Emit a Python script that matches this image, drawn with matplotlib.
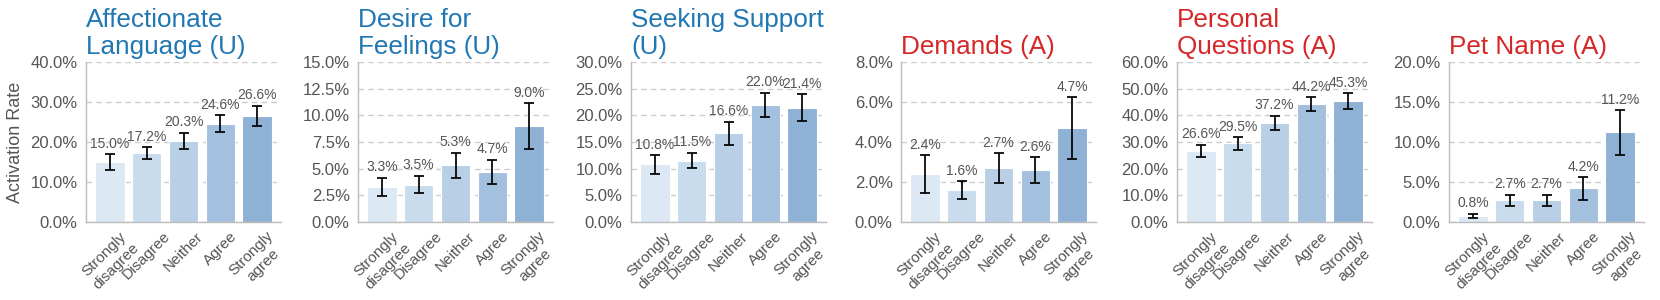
import matplotlib
matplotlib.use("Agg")
import matplotlib.pyplot as plt
import numpy as np
from matplotlib.ticker import FixedLocator, FuncFormatter

plt.rcParams['font.family'] = ['Liberation Sans', 'DejaVu Sans']

categories = ["Strongly\ndisagree", "Disagree", "Neither", "Agree", "Strongly\nagree"]

titles = ["Affectionate\nLanguage (U)", "Desire for\nFeelings (U)", "Seeking Support\n(U)",
          "Demands (A)", "Personal\nQuestions (A)", "Pet Name (A)"]
groups = ["U", "U", "U", "A", "A", "A"]

affectionate_vals = [15.0, 17.2, 20.3, 24.6, 26.6]
affectionate_err = [1.9, 1.5, 2.0, 2.05, 2.5]
desire_vals = [3.3, 3.5, 5.3, 4.7, 9.0]
desire_err = [0.83, 0.82, 1.2, 1.13, 2.15]
seeking_vals = [10.8, 11.5, 16.6, 22.0, 21.4]
seeking_err = [1.75, 1.45, 2.2, 2.25, 2.55]
demands_vals = [2.4, 1.6, 2.7, 2.6, 4.7]
demands_err = [0.93, 0.43, 0.73, 0.63, 1.55]
personal_vals = [26.6, 29.5, 37.2, 44.2, 45.3]
personal_err = [2.3, 2.35, 2.7, 2.5, 3.0]
petname_vals = [0.8, 2.7, 2.7, 4.2, 11.2]
petname_err = [0.25, 0.7, 0.7, 1.4, 2.8]

all_vals = [affectionate_vals, desire_vals, seeking_vals, demands_vals, personal_vals, petname_vals]
all_errs = [affectionate_err, desire_err, seeking_err, demands_err, personal_err, petname_err]

y_max = [40, 15, 30, 8, 60, 20]
y_step = [10, 2.5, 5, 2, 10, 5]

bar_colors = ["#dce8f4", "#c9dcee", "#b8cfe6", "#a3c0df", "#8fb1d5"]
group_colors = {"U": "#1f77b4", "A": "#d62728"}
text_grey = "#555555"

W, H = 1660, 300
fig = plt.figure(figsize=(W / 100, H / 100), dpi=100)

lefts_px = [86, 358, 631, 901, 1177, 1449]
width_px = 195
bottom = 1 - 222 / H
top = 1 - 62 / H

for i in range(6):
    ax = fig.add_axes([lefts_px[i] / W, bottom, width_px / W, top - bottom])
    x = np.arange(len(categories))
    vals = all_vals[i]
    errs = all_errs[i]
    ax.set_axisbelow(True)
    ax.bar(x, vals, width=0.8, color=bar_colors, edgecolor="white", linewidth=0.8, zorder=2)
    ax.errorbar(x, vals, yerr=errs, fmt="none", ecolor="black", elinewidth=1.25,
                capsize=3.8, capthick=1.25, zorder=3)
    for xi, v, e in zip(x, vals, errs):
        ax.annotate(f"{v:.1f}%", xy=(xi, v + e), xytext=(0, 2.5), textcoords="offset points",
                    ha="center", va="bottom", fontsize=10, color=text_grey, zorder=4)
    ax.set_xlim(-0.65, 4.65)
    ax.set_ylim(0, y_max[i])
    ticks = np.arange(0, y_max[i] + y_step[i] / 2, y_step[i])
    ax.yaxis.set_major_locator(FixedLocator(ticks))
    ax.yaxis.set_major_formatter(FuncFormatter(lambda v, p: f"{v:.1f}%"))
    ax.set_xticks(x)
    ax.set_xticklabels(categories, rotation=45, ha="center")
    ax.tick_params(axis="both", length=0, labelcolor=text_grey)
    ax.tick_params(axis="y", pad=6, labelsize=12)
    ax.tick_params(axis="x", pad=5, labelsize=11)
    ax.grid(axis="y", color="#cccccc", linestyle=(0, (4, 3)), linewidth=1.0)
    for s in ["top", "right"]:
        ax.spines[s].set_visible(False)
    for s in ["left", "bottom"]:
        ax.spines[s].set_color("#bbbbbb")
        ax.spines[s].set_linewidth(1.0)
    ax.set_title(titles[i], loc="left", fontsize=18.8, color=group_colors[groups[i]],
                 pad=6, linespacing=1.15)
    if i == 0:
        ax.set_ylabel("Activation Rate", fontsize=13, color=text_grey, labelpad=4.5)

fig.savefig("out.png", dpi=100)
